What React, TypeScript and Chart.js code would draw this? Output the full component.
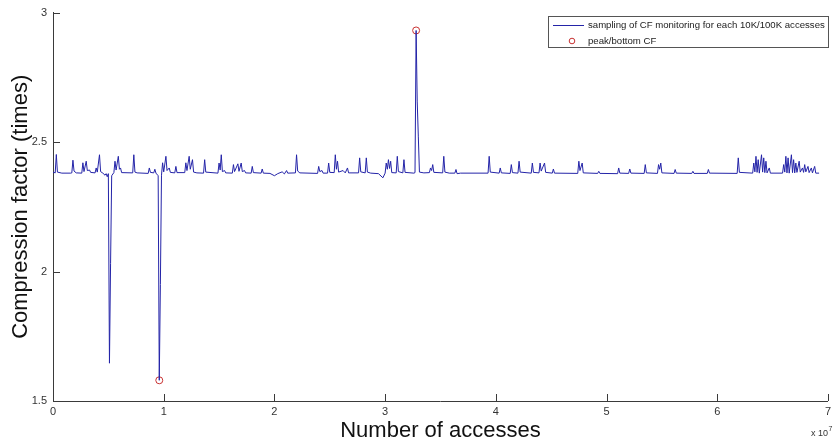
import React, { useEffect, useRef } from "react";
import { Chart, registerables } from "chart.js";

Chart.register(...registerables);

// x in units of 10^5 accesses, y = compression factor (times)
const cfSamples: [number, number][] = [
  [0, 2.384], [2, 2.381], [3, 2.452], [4, 2.384], [8, 2.38],
  [16, 2.38], [17, 2.381], [18, 2.43], [19, 2.388], [21, 2.381],
  [26, 2.38], [27, 2.42], [28, 2.386], [30, 2.426], [31, 2.39], [33, 2.392], [34, 2.383],
  [38, 2.381], [39, 2.4], [40, 2.384], [42, 2.451], [43, 2.386], [45, 2.38],
  [47, 2.372], [48, 2.378], [49, 2.366],
  [50, 2.378], [51, 1.646], [52, 2.03], [53, 2.37],
  [55, 2.382], [56, 2.426], [57, 2.392], [59, 2.445], [60, 2.395], [61, 2.4], [62, 2.382],
  [72, 2.381], [73, 2.451], [74, 2.384], [76, 2.381],
  [86, 2.379], [87, 2.4], [88, 2.383], [91, 2.381], [92, 2.395], [93, 2.38],
  [95, 2.37], [96, 1.58], [97, 1.95], [98, 2.372],
  [99, 2.42], [100, 2.385], [102, 2.445], [103, 2.39], [105, 2.4], [106, 2.383],
  [110, 2.381], [111, 2.406], [112, 2.382],
  [119, 2.382], [120, 2.42], [121, 2.39], [123, 2.445], [124, 2.395], [126, 2.432], [127, 2.384], [130, 2.381],
  [136, 2.38], [137, 2.432], [138, 2.384],
  [149, 2.38], [150, 2.419], [151, 2.392], [152, 2.451], [153, 2.386], [155, 2.39], [156, 2.381],
  [162, 2.38], [163, 2.413], [164, 2.386], [167, 2.416], [168, 2.387], [170, 2.419], [171, 2.386], [173, 2.39], [174, 2.381],
  [179, 2.38], [180, 2.406], [181, 2.382],
  [188, 2.38], [189, 2.396], [190, 2.38],
  [196, 2.379], [200, 2.37], [203, 2.378], [207, 2.385], [209, 2.377], [211, 2.39], [212, 2.38],
  [219, 2.381], [220, 2.451], [221, 2.388], [223, 2.381],
  [239, 2.379], [240, 2.406], [241, 2.386], [243, 2.39], [244, 2.38],
  [248, 2.38], [249, 2.419], [250, 2.383],
  [254, 2.382], [255, 2.451], [256, 2.395], [257, 2.426], [258, 2.384],
  [262, 2.39], [264, 2.381], [266, 2.4], [267, 2.381],
  [276, 2.381], [277, 2.439], [278, 2.385],
  [282, 2.381], [283, 2.439], [284, 2.384], [287, 2.38],
  [294, 2.378], [298, 2.362], [300, 2.38], [301, 2.419], [302, 2.395], [303, 2.432], [304, 2.398], [305, 2.426], [306, 2.382],
  [310, 2.381], [311, 2.445], [312, 2.386],
  [316, 2.381], [317, 2.432], [318, 2.383],
  [326, 2.38], [327, 2.382], [328, 2.931], [329, 2.655], [330, 2.52], [331, 2.384],
  [335, 2.381],
  [340, 2.382], [341, 2.4], [342, 2.39], [343, 2.413], [344, 2.383],
  [352, 2.381], [353, 2.445], [354, 2.384],
  [358, 2.38], [363, 2.38], [364, 2.394], [365, 2.378], [368, 2.38],
  [393, 2.38], [394, 2.445], [395, 2.384],
  [403, 2.38], [404, 2.4], [405, 2.381],
  [413, 2.379], [414, 2.413], [415, 2.382],
  [420, 2.38], [421, 2.426], [422, 2.384],
  [432, 2.38], [433, 2.419], [434, 2.383],
  [439, 2.381], [440, 2.419], [441, 2.388], [444, 2.419], [445, 2.383],
  [451, 2.38], [452, 2.396], [453, 2.38],
  [474, 2.379], [475, 2.426], [476, 2.39], [478, 2.419], [479, 2.381],
  [492, 2.379], [493, 2.387], [494, 2.379],
  [510, 2.378], [511, 2.4], [512, 2.38],
  [520, 2.379], [521, 2.396], [522, 2.38],
  [534, 2.379], [535, 2.413], [536, 2.381],
  [546, 2.379], [547, 2.413], [548, 2.395], [549, 2.419], [550, 2.381],
  [561, 2.379], [562, 2.394], [563, 2.38],
  [577, 2.379], [578, 2.387], [579, 2.379],
  [591, 2.379], [592, 2.394], [593, 2.38],
  [618, 2.379], [619, 2.439], [620, 2.383],
  [632, 2.38], [633, 2.419], [634, 2.385], [635, 2.445], [636, 2.383], [637, 2.432], [638, 2.38],
  [640, 2.451], [641, 2.384], [642, 2.439], [643, 2.382], [644, 2.426], [645, 2.381], [647, 2.4], [648, 2.38],
  [659, 2.38], [660, 2.413], [661, 2.384], [662, 2.445], [663, 2.381], [664, 2.439], [665, 2.38],
  [667, 2.451], [668, 2.382], [669, 2.432], [670, 2.381], [671, 2.419], [672, 2.383], [674, 2.426], [675, 2.384],
  [677, 2.4], [678, 2.383], [679, 2.413], [680, 2.385], [682, 2.406], [683, 2.382], [685, 2.4], [686, 2.381],
  [688, 2.406], [689, 2.38], [692, 2.38],
];

const peakBottom: [number, number][] = [
  [328, 2.931],
  [96, 1.58],
];

const seriesLabels = [
  "sampling of CF monitoring for each 10K/100K accesses",
  "peak/bottom CF",
];

const xTickValues = [0, 100, 200, 300, 400, 500, 600, 700];
const xTickLabels = ["0", "1", "2", "3", "4", "5", "6", "7"];
const yTickValues = [1.5, 2, 2.5, 3];
const yTickLabels = ["1.5", "2", "2.5", "3"];
const xExponent = "7";
const xTitle = "Number of accesses";
const yTitle = "Compression factor (times)";

const LINE_COLOR = "#2424a8";
const MARKER_COLOR = "#c83232";
const AXIS_COLOR = "#3a3a3a";
const TICK_FONT = "'Liberation Sans Narrow', 'Liberation Sans', sans-serif";
const TITLE_FONT = "'Liberation Sans', Arial, sans-serif";

const decorPlugin = {
  id: "decor",
  afterDraw(chart: any) {
    const { ctx, chartArea, scales } = chart;
    ctx.save();
    ctx.strokeStyle = AXIS_COLOR;
    ctx.lineWidth = 1;
    // inward tick marks
    xTickValues.forEach((v) => {
      const px = Math.round(scales.x.getPixelForValue(v)) + 0.5;
      ctx.beginPath();
      ctx.moveTo(px, chartArea.bottom);
      ctx.lineTo(px, chartArea.bottom - 7);
      ctx.stroke();
    });
    yTickValues.forEach((v) => {
      const py = Math.round(scales.y.getPixelForValue(v)) + 0.5;
      ctx.beginPath();
      ctx.moveTo(chartArea.left, py);
      ctx.lineTo(chartArea.left + 7, py);
      ctx.stroke();
    });

    // exponent label
    ctx.fillStyle = "#333";
    ctx.textBaseline = "alphabetic";
    ctx.textAlign = "left";
    ctx.font = `9px ${TICK_FONT}`;
    const ex = chartArea.right - 17;
    const ey = 436;
    ctx.fillText("x 10", ex, ey);
    const w = ctx.measureText("x 10").width;
    ctx.font = `7px ${TICK_FONT}`;
    ctx.fillText(xExponent, ex + w + 0.5, ey - 5);

    // legend box
    const lx = 548.5, ly = 16.5, lw = 280, lh = 31;
    ctx.fillStyle = "#fff";
    ctx.fillRect(lx, ly, lw, lh);
    ctx.strokeStyle = "#555";
    ctx.strokeRect(lx, ly, lw, lh);
    ctx.strokeStyle = LINE_COLOR;
    ctx.beginPath();
    ctx.moveTo(553, 25.5);
    ctx.lineTo(584, 25.5);
    ctx.stroke();
    ctx.strokeStyle = MARKER_COLOR;
    ctx.beginPath();
    ctx.arc(572, 41, 2.8, 0, Math.PI * 2);
    ctx.stroke();
    ctx.fillStyle = "#222";
    ctx.font = `9.6px ${TITLE_FONT}`;
    ctx.textBaseline = "middle";
    ctx.fillText(chart.data.datasets[0].label, 588, 25.5);
    ctx.fillText(chart.data.datasets[1].label, 588, 41);
    ctx.restore();
  },
};

export default function App() {
  const ref = useRef<HTMLCanvasElement>(null);
  useEffect(() => {
    if (!ref.current) return;
    const chart = new Chart(ref.current, {
      type: "line",
      data: {
        datasets: [
          {
            label: seriesLabels[0],
            data: cfSamples.map(([x, y]) => ({ x, y })),
            borderColor: LINE_COLOR,
            borderWidth: 1,
            pointRadius: 0,
            tension: 0,
            fill: false,
          },
          {
            label: seriesLabels[1],
            data: peakBottom.map(([x, y]) => ({ x, y })),
            showLine: false,
            pointRadius: 3.5,
            pointStyle: "circle",
            pointBorderColor: MARKER_COLOR,
            pointBackgroundColor: "rgba(0,0,0,0)",
            pointBorderWidth: 1,
            borderColor: MARKER_COLOR,
          },
        ],
      },
      options: {
        animation: false,
        responsive: false,
        devicePixelRatio: 1,
        events: [],
        layout: { padding: { left: 0, right: 5, top: 10, bottom: 0 } },
        plugins: { legend: { display: false }, tooltip: { enabled: false } },
        scales: {
          x: {
            type: "linear",
            min: 0,
            max: 700,
            afterBuildTicks: (s: any) => {
              s.ticks = xTickValues.map((value) => ({ value }));
            },
            afterFit: (s: any) => {
              s.height = 42;
            },
            grid: { display: false, drawTicks: false },
            border: { display: true, color: AXIS_COLOR, width: 1 },
            ticks: {
              padding: 4,
              color: "#333",
              font: { family: TICK_FONT, size: 11 },
              maxRotation: 0,
              callback: (_v: any, i: number) => xTickLabels[i],
            },
            title: {
              display: true,
              text: xTitle,
              color: "#111",
              font: { family: TITLE_FONT, size: 22, lineHeight: 1 },
              padding: { top: 0, bottom: 1 },
            },
          },
          y: {
            type: "linear",
            min: 1.5,
            max: 3,
            afterBuildTicks: (s: any) => {
              s.ticks = yTickValues.map((value) => ({ value }));
            },
            afterFit: (s: any) => {
              s.width = 53;
            },
            grid: { display: false, drawTicks: false },
            border: { display: true, color: AXIS_COLOR, width: 1 },
            ticks: {
              padding: 6,
              color: "#333",
              font: { family: TICK_FONT, size: 11 },
              callback: (_v: any, i: number) => yTickLabels[i],
            },
            title: {
              display: true,
              text: yTitle,
              color: "#111",
              font: { family: TITLE_FONT, size: 22, lineHeight: 1 },
              padding: { top: 10, bottom: 0 },
            },
          },
        },
      },
      plugins: [decorPlugin],
    });
    return () => chart.destroy();
  }, []);
  return (
    <div style={{ position: "absolute", left: 0, top: 0, width: 835, height: 443, background: "#fff" }}>
      <canvas ref={ref} width={835} height={443} style={{ display: "block" }} />
    </div>
  );
}
